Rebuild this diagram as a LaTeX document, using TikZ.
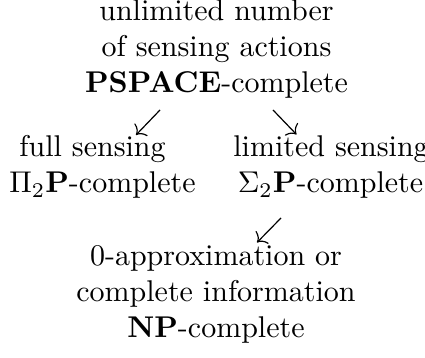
\documentclass[tikz,border=0pt]{standalone}
\usepackage{amsmath}
\usepackage{amssymb}
\usetikzlibrary{arrows.meta}
\tikzset{
    entry/.style = {anchor=base, inner sep=0pt, align=center},
    arrow/.style = {draw, line width=0.4pt, -{To[length=2.6pt,width=6pt]}}
}

\begin{document}
\begin{tikzpicture}[x=0.3333pt, y=-0.3333pt]
    \useasboundingbox (0,0) rectangle (425,358);
    % most general case
    \foreach \txt [count=\i] in {unlimited number, of sensing actions, {\textbf{PSPACE}-complete}}{
        \node [entry] (top\i) at (216.5,{21+36*(\i-1)}) {\txt};
    }
    % two restricted cases
    \node [entry] (full1) at (92.5,157) {full sensing};
    \node [entry] (full2) at (102.5,193) {$\Pi_2$\textbf{P}-complete};
    \node [entry] (lim1) at (331,157) {limited sensing};
    \node [entry] (lim2) at (330.5,193) {$\Sigma_2$\textbf{P}-complete};
    % easiest case
    \foreach \txt [count=\i] in {0-approximation or, complete information, {\textbf{NP}-complete}}{
        \node [entry] (bot\i) at (216,{266+36*(\i-1)}) {\txt};
    }
    \coordinate (fullin) at (136,135);
    \coordinate (limin) at (296.5,134.5);
    \coordinate (botin) at (257,242.5);
    \draw [arrow] (top3.base) ++(-56.5,17) coordinate (fullout) -- (fullin);
    \draw [arrow] (top3.base) ++(56.5,17) coordinate (limout) -- (limin);
    \draw [arrow] (lim2.base) ++(-49.5,25) coordinate (botout) -- (botin);
\end{tikzpicture}
\end{document}
